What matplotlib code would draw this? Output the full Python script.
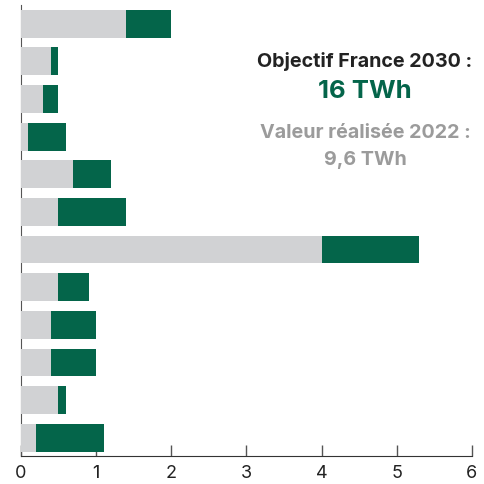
import matplotlib.pyplot as plt
import numpy as np

# valeurs (TWh), de haut en bas
realise_2022 = [1.4, 0.4, 0.3, 0.1, 0.7, 0.5, 4.0, 0.5, 0.4, 0.4, 0.5, 0.2]
objectif_2030 = [2.0, 0.5, 0.5, 0.6, 1.2, 1.4, 5.3, 0.9, 1.0, 1.0, 0.6, 1.1]
x_ticks = [0, 1, 2, 3, 4, 5, 6]

GREY = "#d1d2d4"
GREEN = "#04654a"

plt.rcParams['font.family'] = ['Inter', 'DejaVu Sans']

fig = plt.figure(figsize=(4.85, 4.85), dpi=100)
ax = fig.add_axes([0.043, 0.058, 0.930, 0.930])

pos = np.arange(len(realise_2022))
reste = np.array(objectif_2030) - np.array(realise_2022)
ax.barh(pos, realise_2022, height=0.74, color=GREY, zorder=3)
ax.barh(pos, reste, left=realise_2022, height=0.74, color=GREEN, zorder=3)

ax.set_xlim(0, 6)
ax.set_ylim(11.48, -0.5)
ax.set_xticks(x_ticks)
ax.set_yticks([])
ax.tick_params(axis='x', direction='in', length=8, width=1, color='#555555',
               labelsize=13, labelcolor='#222222', pad=6)
for s in ['top', 'right']:
    ax.spines[s].set_visible(False)
ax.spines['left'].set_color('#555555')
ax.spines['bottom'].set_color('#333333')
ax.spines['left'].set_zorder(1)

cx = 0.763
ax.text(cx, 0.876, "Objectif France 2030 :", transform=ax.transAxes,
        ha='center', va='center', fontsize=14.2, fontweight='bold', color='#222222')
ax.text(cx, 0.809, "16 TWh", transform=ax.transAxes,
        ha='center', va='center', fontsize=18.5, fontweight='bold', color=GREEN)
ax.text(cx, 0.718, "Valeur réalisée 2022 :", transform=ax.transAxes,
        ha='center', va='center', fontsize=14.2, fontweight='bold', color='#9b9b9b')
ax.text(cx, 0.659, "9,6 TWh", transform=ax.transAxes,
        ha='center', va='center', fontsize=14.2, fontweight='bold', color='#9b9b9b')

fig.savefig("out.png", dpi=100)
